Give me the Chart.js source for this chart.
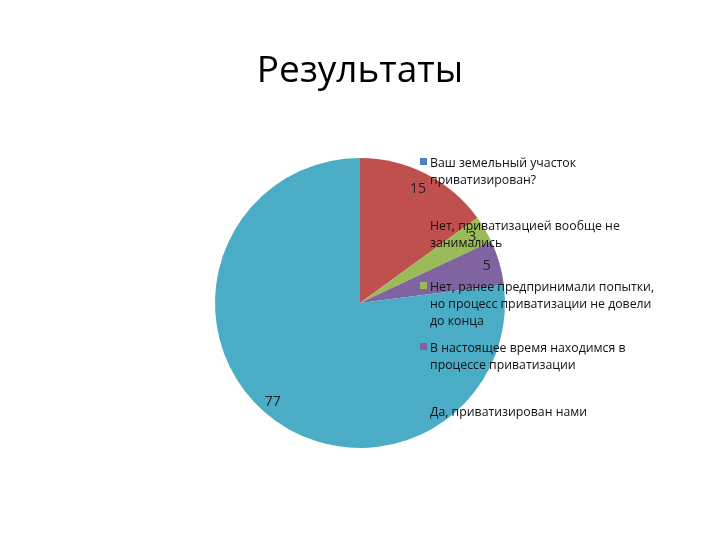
<!DOCTYPE html>
<html>
<head>
<meta charset="utf-8">
<script src="https://cdn.jsdelivr.net/npm/chart.js@4/dist/chart.umd.min.js"></script>
<style>
  body { margin: 0; background: #fff; }
  #wrap { position: relative; width: 720px; height: 540px; }
  #chart { position: absolute; left: 0; top: 0; }
  #title {
    position: absolute; left: 0; width: 720px; top: 42px;
    text-align: center; font-family: "Open Sans", sans-serif; font-size: 37px; color: #000;
  }
  #legend { position: absolute; left: 420px; top: 0; font-family: "Open Sans", sans-serif; font-size: 12.3px; color: #111; }
  .item { position: absolute; left: 0; width: 240px; line-height: 17px; padding-left: 10px; }
  .item .box { position: absolute; left: 0; top: 4px; width: 7px; height: 7px; }
</style>
</head>
<body>
<div id="wrap">
  <canvas id="chart" width="720" height="540"></canvas>
  <div id="title">Результаты</div>
  <div id="legend"></div>
</div>
<script>
// Данные диаграммы
const categories = [
    'Нет, приватизацией вообще не занимались',
    'Нет, ранее предпринимали попытки, но процесс приватизации не довели до конца',
    'В настоящее время находимся в процессе приватизации',
    'Да, приватизирован нами'
];
const values = [15, 3, 5, 77];
const colors = ['#C0504D', '#9BBB59', '#8064A2', '#4BACC6'];

// Легенда (как на исходной картинке, со сдвинутыми маркерами)
const legendTexts = [
    ['Ваш земельный участок', 'приватизирован?'],
    ['Нет, приватизацией вообще не', 'занимались'],
    ['Нет, ранее предпринимали попытки,', 'но процесс приватизации не довели', 'до конца'],
    ['В настоящее время находимся в', 'процессе приватизации'],
    ['Да, приватизирован нами']
];
const legendColors = ['#4F81BD', null, '#9BBB59', '#8064A2', null];
const legendTops = [154, 217, 278, 339, 403];

// Подписи значений внутри секторов
const labelPlugin = {
    id: 'sliceLabels',
    afterDatasetsDraw(chart) {
        const ctx = chart.ctx;
        const meta = chart.getDatasetMeta(0);
        const factors = [0.88, 0.9, 0.91, 0.91];
        ctx.save();
        ctx.font = '14px "Open Sans", sans-serif';
        ctx.fillStyle = '#222';
        ctx.textAlign = 'center';
        ctx.textBaseline = 'middle';
        meta.data.forEach((arc, i) => {
            const p = arc.getProps(['x', 'y', 'startAngle', 'endAngle', 'outerRadius'], true);
            const a = (p.startAngle + p.endAngle) / 2;
            const r = p.outerRadius * factors[i];
            ctx.fillText(String(values[i]), p.x + Math.cos(a) * r, p.y + Math.sin(a) * r);
        });
        ctx.restore();
    }
};

new Chart(document.getElementById('chart').getContext('2d'), {
    type: 'pie',
    data: {
        labels: categories,
        datasets: [{
            data: values,
            backgroundColor: colors,
            borderWidth: 0
        }]
    },
    options: {
        responsive: false,
        animation: false,
        layout: { padding: { left: 215, right: 215, top: 158, bottom: 92 } },
        plugins: {
            legend: { display: false },
            tooltip: { enabled: false }
        }
    },
    plugins: [labelPlugin]
});

// Строим легенду
const legend = document.getElementById('legend');
legendTexts.forEach((lines, i) => {
    const div = document.createElement('div');
    div.className = 'item';
    div.style.top = legendTops[i] + 'px';
    div.innerHTML = (legendColors[i] ? '<span class="box" style="background:' + legendColors[i] + '"></span>' : '') + lines.join('<br>');
    legend.appendChild(div);
});
</script>
</body>
</html>
